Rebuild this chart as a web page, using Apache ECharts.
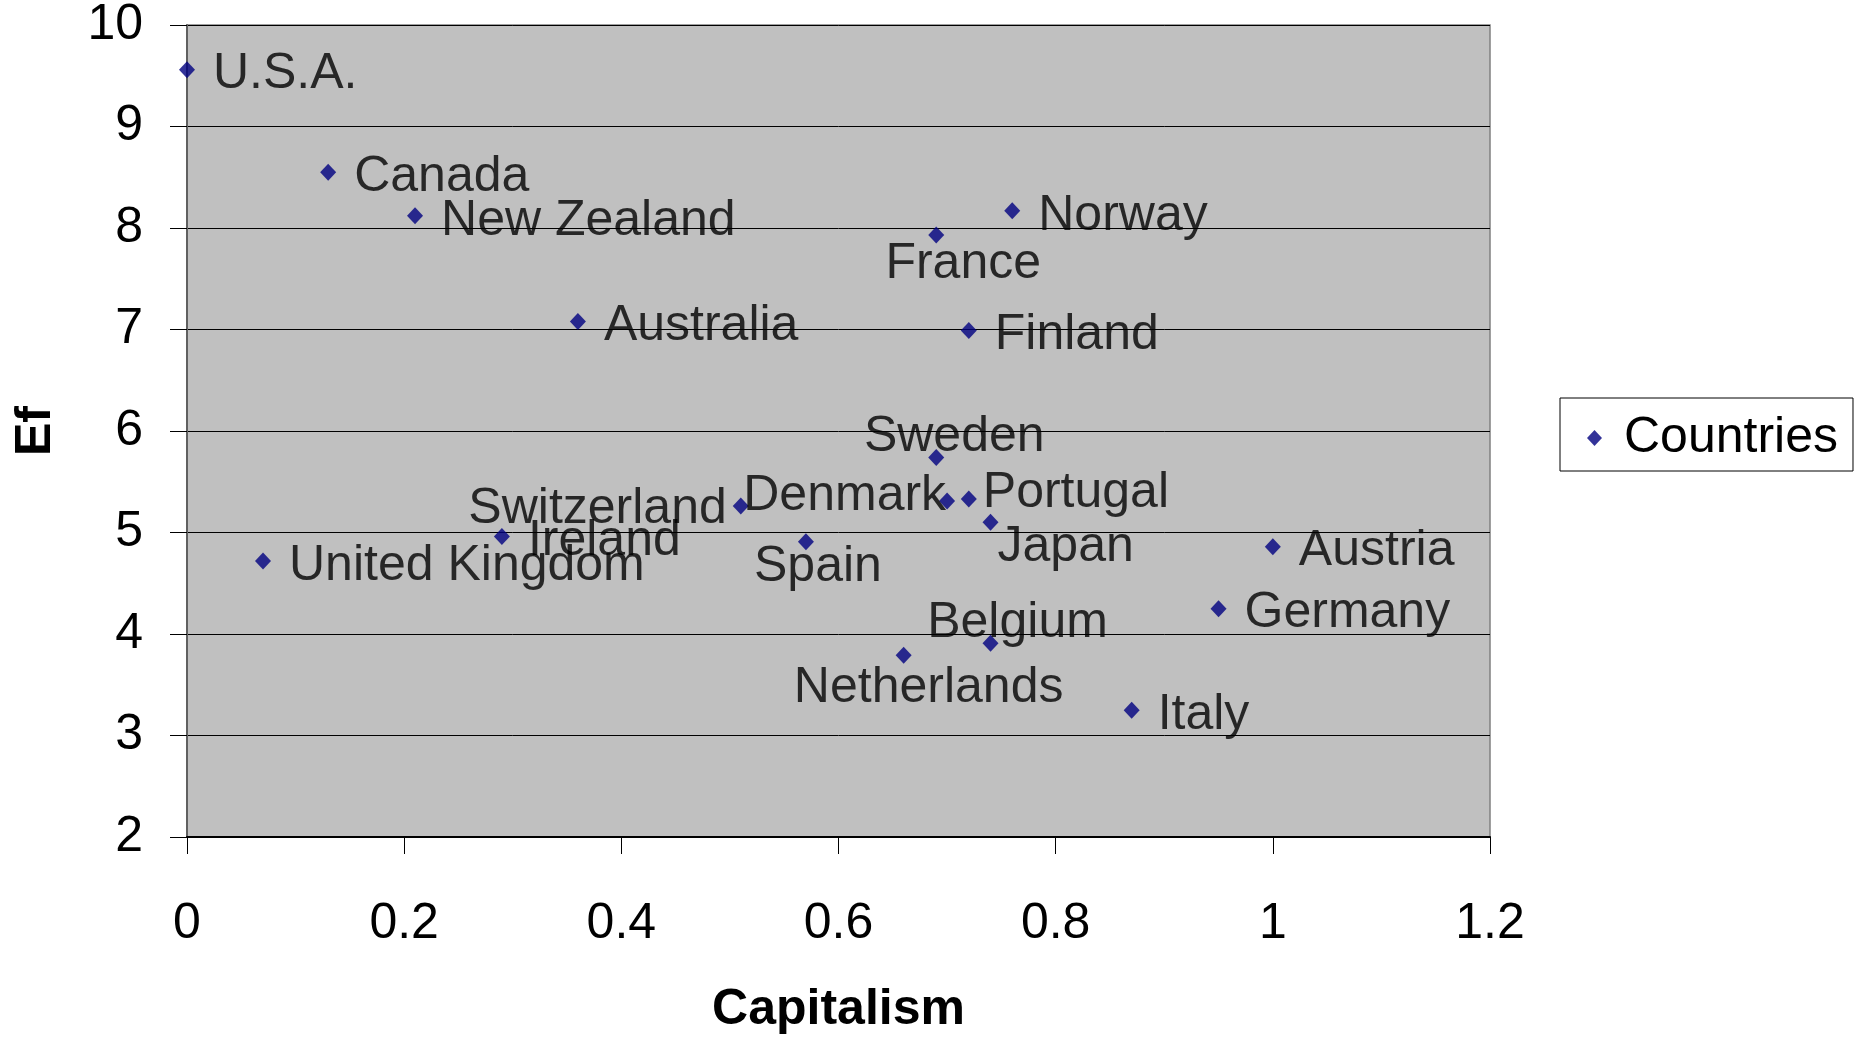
<!DOCTYPE html>
<html>
<head>
<meta charset="utf-8">
<script src="https://cdn.jsdelivr.net/npm/echarts@6/dist/echarts.min.js"></script>
<style>
  html, body { margin: 0; padding: 0; background: #fff; }
  #chart { width: 1858px; height: 1040px; }
</style>
</head>
<body>
<div id="chart"></div>
<script>
// Countries plotted by capitalism index (x) against Ef (y)
const countries = ['U.S.A.', 'Canada', 'New Zealand', 'Australia', 'France', 'Norway', 'Finland',
  'Sweden', 'Denmark', 'Portugal', 'Japan', 'Switzerland', 'Ireland', 'United Kingdom',
  'Spain', 'Austria', 'Germany', 'Belgium', 'Netherlands', 'Italy'];
const capitalism = [0.00, 0.13, 0.21, 0.36, 0.69, 0.76, 0.72,
  0.69, 0.70, 0.72, 0.74, 0.51, 0.29, 0.07,
  0.57, 1.00, 0.95, 0.74, 0.66, 0.87];
const ef = [9.56, 8.55, 8.12, 7.08, 7.93, 8.17, 6.99,
  5.74, 5.31, 5.33, 5.10, 5.26, 4.96, 4.72,
  4.91, 4.86, 4.25, 3.91, 3.79, 3.25];

const xTicks = [0, 0.2, 0.4, 0.6, 0.8, 1, 1.2];
const yTicks = [2, 3, 4, 5, 6, 7, 8, 9, 10];

const FONT = '"Liberation Sans", Arial, sans-serif';
const FS = 50;

// Label placements for points whose names sit away from the default right side
const labelPlacement = {
  'France':      { align: 'center', offset: [27, 29] },
  'Sweden':      { align: 'center', offset: [18, -20] },
  'Denmark':     { align: 'right',  offset: [-1, -5] },
  'Portugal':    { align: 'left',   offset: [14, -6] },
  'Japan':       { align: 'left',   offset: [7, 25] },
  'Spain':       { align: 'center', offset: [12, 26] },
  'Belgium':     { align: 'center', offset: [27, -20] },
  'Netherlands': { align: 'center', offset: [25, 33] },
  'Switzerland': { align: 'right',  offset: [-14, 3] }
};

const points = countries.map((name, i) => {
  const item = { name: name, value: [capitalism[i], ef[i]] };
  const p = labelPlacement[name];
  if (p) {
    item.label = { position: 'inside', align: p.align, verticalAlign: 'middle', distance: 0, offset: p.offset };
  }
  return item;
});

const chart = echarts.init(document.getElementById('chart'), null, { renderer: 'canvas' });

chart.setOption({
  backgroundColor: '#ffffff',
  animation: false,
  grid: {
    left: 187, right: 368, top: 25, bottom: 199,
    show: true,
    backgroundColor: '#C0C0C0',
    borderColor: '#808080',
    borderWidth: 1.5
  },
  legend: {
    left: 1560, top: 398,
    orient: 'vertical',
    padding: [15, 15, 8, 27],
    borderColor: '#000000',
    borderWidth: 1,
    itemWidth: 15, itemHeight: 16,
    textStyle: { fontFamily: FONT, fontSize: FS, color: '#000', lineHeight: 48, padding: [0, 0, 0, 17] },
    data: [{ name: 'Countries', icon: 'diamond' }]
  },
  xAxis: {
    type: 'value',
    min: 0, max: 1.2, interval: 0.2,
    name: 'Capitalism',
    nameLocation: 'middle',
    nameGap: 148,
    nameTextStyle: { fontFamily: FONT, fontSize: FS, fontWeight: 'bold', color: '#000' },
    axisLine: { show: true, onZero: false, lineStyle: { color: '#000000', width: 2 } },
    axisTick: { show: true, length: 17, inside: false, lineStyle: { color: '#000', width: 1 } },
    axisLabel: {
      margin: 62, fontFamily: FONT, fontSize: FS, color: '#000',
      formatter: v => {
        const t = xTicks.find(x => Math.abs(x - v) < 1e-9);
        return t === undefined ? '' : String(t);
      }
    },
    splitLine: { show: false }
  },
  yAxis: {
    type: 'value',
    min: 2, max: 10, interval: 1,
    name: 'Ef',
    nameLocation: 'middle',
    nameGap: 126,
    nameTextStyle: { fontFamily: FONT, fontSize: FS, fontWeight: 'bold', color: '#000' },
    axisLine: { show: true, onZero: false, lineStyle: { color: '#606060', width: 2 } },
    axisTick: { show: true, length: 17, inside: false, lineStyle: { color: '#000', width: 1 } },
    axisLabel: {
      margin: 44, fontFamily: FONT, fontSize: FS, color: '#000',
      formatter: v => {
        const t = yTicks.find(y => Math.abs(y - v) < 1e-9);
        return t === undefined ? '' : String(t);
      }
    },
    splitLine: { show: true, lineStyle: { color: '#000000', width: 1 } }
  },
  series: [{
    name: 'Countries',
    type: 'scatter',
    symbol: 'diamond',
    symbolSize: [16, 17],
    itemStyle: { color: '#000080' },
    label: {
      show: true,
      position: 'right',
      distance: 18,
      offset: [0, 5],
      formatter: '{b}',
      fontFamily: FONT,
      fontSize: FS,
      color: '#000000'
    },
    data: points
  }]
});
</script>
</body>
</html>
